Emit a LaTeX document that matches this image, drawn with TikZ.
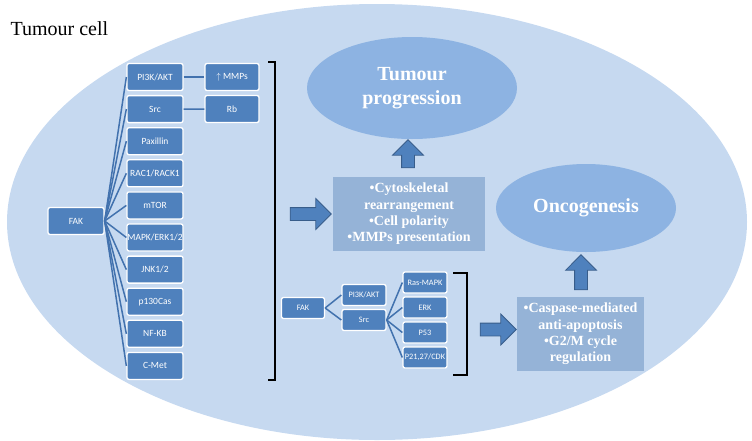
\documentclass[tikz,border=0pt]{standalone}
\usepackage{fontspec}
\setmainfont{Liberation Serif}
\newfontfamily\boxfont{Carlito}
\usetikzlibrary{shapes.geometric,shapes.arrows}

\definecolor{cellbg}{HTML}{C6D9F0}
\definecolor{genefill}{HTML}{4F81BD}
\definecolor{genelink}{HTML}{4272AE}
\definecolor{outfill}{HTML}{8DB3E2}
\definecolor{mechfill}{HTML}{95B3D7}
\definecolor{arrowline}{HTML}{385D8A}

\begin{document}
\begin{tikzpicture}[x=1pt,y=-1pt,
    gene/.style={draw=white, line width=1.3pt, fill=genefill, rounded corners=2pt,
      minimum width=56pt, minimum height=27pt, inner sep=0pt, text=white,
      font=\boxfont\fontsize{9.5}{11}\selectfont},
    sgene/.style={gene, minimum width=44pt, minimum height=21pt,
      font=\boxfont\fontsize{8.3}{10}\selectfont},
    link/.style={draw=genelink, line width=1.5pt},
    outcome/.style={ellipse, fill=outfill, inner sep=0pt, text=white, align=center,
      font=\bfseries\fontsize{20}{24}\selectfont},
    mechbox/.style={fill=mechfill, inner sep=0pt, text=white, align=center,
      font=\bfseries\fontsize{14}{16.3}\selectfont},
    blockarrow/.style={single arrow, fill=genefill, draw=arrowline, line width=0.8pt,
      inner sep=6pt, single arrow head extend=9pt},
    bracket/.style={draw=black, line width=1.6pt}]
    \useasboundingbox (0,0) rectangle (752,440);
    \fill[cellbg] (377,222) ellipse [x radius=370, y radius=218];
    \node[anchor=base west, font=\fontsize{20}{24}\selectfont] (title) at (7,35) {Tumour cell};

    \node[gene] (fak) at (76,221) {FAK};
    \foreach \txt [count=\i] in {{PI3K/AKT},Src,Paxillin,{RAC1/RACK1},mTOR,{MAPK/ERK1/2},{JNK1/2},p130Cas,NF-KB,C-Met}
      \node[gene] (g\i) at (155,{77+32.1*(\i-1)}) {\txt};
    \foreach \i in {1,...,10}
      \draw[link] (fak.east) -- (g\i.west);
    \node[gene, minimum width=54pt] (mmp) at (232,77) {$\uparrow$ MMPs};
    \node[gene, minimum width=54pt] (rb) at (232,109) {Rb};
    \draw[link] (g1) -- (mmp);
    \draw[link] (g2) -- (rb);
    \draw[bracket] (268,62) -- (275,62) -- (275,380) -- (268,380);

    \node[blockarrow, minimum height=41pt] (arrA) at (307.5,214) {};
    \node[mechbox, minimum width=152pt, minimum height=74pt] (mech) at (409,214)
      {•Cytoskeletal\\rearrangement\\•Cell polarity\\•MMPs presentation};
    \node[blockarrow, rotate=90, minimum height=28pt] (arrB) at (408,157) {};
    \node[outcome, minimum width=210pt, minimum height=102pt] (prog) at (412,88)
      {Tumour\\progression};

    \node[sgene, minimum width=43pt] (fak2) at (303,308) {FAK};
    \node[sgene] (pik2) at (364,295) {PI3K/AKT};
    \node[sgene] (src2) at (364,320) {Src};
    \draw[link] (fak2.east) -- (pik2.west);
    \draw[link] (fak2.east) -- (src2.west);
    \foreach \txt [count=\i] in {Ras-MAPK,ERK,P53,{P21,27/CDK}}
      \node[sgene] (h\i) at (425,{282.5+25*(\i-1)}) {\txt};
    \foreach \i in {1,...,4}
      \draw[link] (src2.east) -- (h\i.west);
    \draw[bracket] (453,273) -- (467,273) -- (467,375) -- (453,375);

    \node[blockarrow, minimum height=36pt] (arrC) at (495,329.5) {};
    \node[mechbox, minimum width=127pt, minimum height=74pt] (casp) at (580.5,334)
      {•Caspase-mediated\\anti-apoptosis\\•G2/M cycle\\regulation};
    \node[blockarrow, rotate=90, minimum height=35pt] (arrD) at (581,275.5) {};
    \node[outcome, minimum width=180pt, minimum height=88pt] (onco) at (586,208) {Oncogenesis};
\end{tikzpicture}
\end{document}
